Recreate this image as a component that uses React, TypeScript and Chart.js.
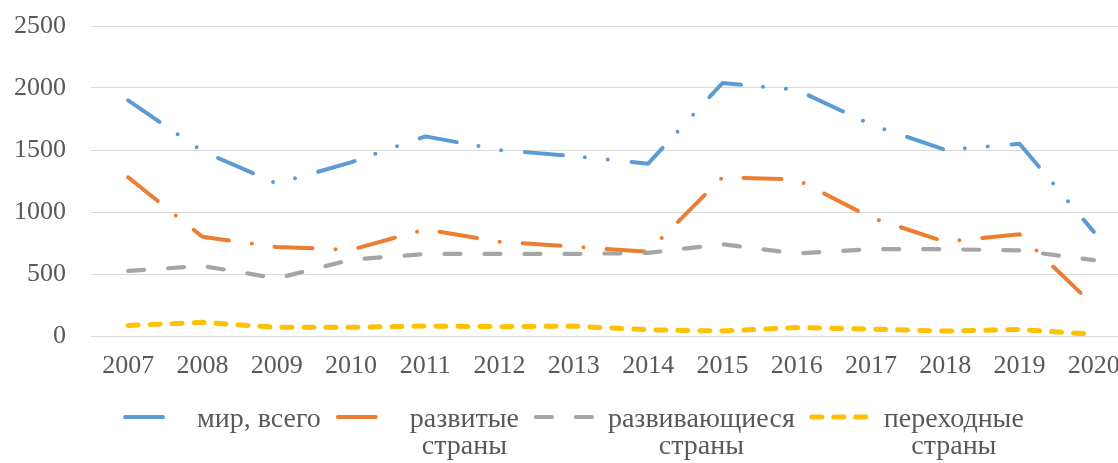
import React, { useEffect, useRef } from "react";
import { Chart, registerables } from "chart.js";

Chart.register(...registerables);

const years = ["2007", "2008", "2009", "2010", "2011", "2012", "2013", "2014", "2015", "2016", "2017", "2018", "2019", "2020"];
const worldTotal = [1900, 1490, 1230, 1400, 1610, 1500, 1450, 1390, 2040, 1985, 1705, 1500, 1550, 840];
const developed = [1280, 800, 718, 695, 860, 760, 720, 680, 1280, 1262, 955, 760, 820, 245];
const developing = [525, 565, 465, 615, 662, 662, 662, 670, 740, 665, 700, 700, 690, 612];
const transition = [85, 110, 70, 70, 80, 75, 80, 50, 40, 68, 55, 40, 52, 15];
const yTicks = [0, 500, 1000, 1500, 2000, 2500];
const seriesNames = [["мир, всего"], ["развитые", "страны"], ["развивающиеся", "страны"], ["переходные", "страны"]];

const FONT = "'Liberation Serif', 'Times New Roman', serif";
const TEXT = "#595959";
const GRID = "#D9D9D9";
const COLORS = ["#5B9BD5", "#ED7D31", "#A5A5A5", "#FFC000"];
const DASHES = [[38, 22, 0, 23, 0, 24], [38, 23, 0, 23], [16, 24], [10, 12]];
const WIDTHS = [4, 4, 4.2, 5];
const SAMPLE_LEN = [46, 46, 62, 62];

const legendPlugin = {
  id: "customLegend",
  afterDraw(chart: any) {
    const ctx = chart.ctx as CanvasRenderingContext2D;
    const area = chart.chartArea;
    const lineY = area.bottom + 81;
    const base1 = area.bottom + 91;
    const base2 = area.bottom + 118;
    ctx.save();
    ctx.font = `28px ${FONT}`;
    let x = area.left + 32;
    chart.data.datasets.forEach((ds: any, i: number) => {
      const lines = seriesNames[i];
      ctx.strokeStyle = ds.borderColor;
      ctx.lineWidth = ds.borderWidth;
      ctx.lineCap = "round";
      ctx.setLineDash(ds.borderDash);
      ctx.beginPath();
      ctx.moveTo(x + 2, lineY);
      ctx.lineTo(x + SAMPLE_LEN[i], lineY);
      ctx.stroke();
      ctx.setLineDash([]);
      const tx = x + 74;
      const w1 = ctx.measureText(lines[0]).width;
      ctx.fillStyle = TEXT;
      ctx.textBaseline = "alphabetic";
      ctx.textAlign = "left";
      ctx.fillText(lines[0], tx, base1);
      if (lines[1]) {
        ctx.textAlign = "center";
        ctx.fillText(lines[1], tx + w1 / 2, base2);
      }
      x = tx + w1 + 15;
    });
    ctx.restore();
  },
};

export default function App() {
  const ref = useRef<HTMLCanvasElement>(null);
  useEffect(() => {
    if (!ref.current) return;
    const series = [worldTotal, developed, developing, transition];
    const chart = new Chart(ref.current, {
      type: "line",
      data: {
        labels: years,
        datasets: series.map((d, i) => ({
          label: seriesNames[i].join(" "),
          data: d,
          borderColor: COLORS[i],
          backgroundColor: COLORS[i],
          borderWidth: WIDTHS[i],
          borderDash: DASHES[i],
          borderCapStyle: "round",
          borderJoinStyle: "round",
          pointRadius: 0,
          tension: 0,
          fill: false,
          order: 3 - i,
        })),
      },
      options: {
        responsive: false,
        animation: false,
        layout: { padding: { top: 26, right: 9, left: 0, bottom: 0 } },
        plugins: { legend: { display: false }, tooltip: { enabled: false } },
        scales: {
          x: {
            offset: true,
            grid: { display: false, drawTicks: false },
            border: { display: false },
            ticks: { color: TEXT, font: { family: FONT, size: 26 }, padding: 15, maxRotation: 0, autoSkip: false },
            afterFit: (s: any) => {
              s.height = 127;
              s.paddingLeft = 0;
              s.paddingRight = 0;
            },
          },
          y: {
            min: yTicks[0],
            max: yTicks[yTicks.length - 1],
            afterBuildTicks: (s: any) => {
              s.ticks = yTicks.map((v) => ({ value: v }));
            },
            ticks: { color: TEXT, font: { family: FONT, size: 26 }, padding: 25, callback: (v: any) => String(v) },
            grid: { color: GRID, lineWidth: 1, drawTicks: false },
            border: { display: false },
            afterFit: (s: any) => {
              s.width = 91;
              s.paddingTop = 0;
              s.paddingBottom = 0;
            },
          },
        },
      },
      plugins: [legendPlugin],
    });
    return () => chart.destroy();
  }, []);
  return (
    <div style={{ position: "absolute", left: 0, top: 0, width: 1118, height: 463, overflow: "hidden", background: "#fff" }}>
      <canvas ref={ref} width={1140} height={463} style={{ display: "block" }} />
    </div>
  );
}
